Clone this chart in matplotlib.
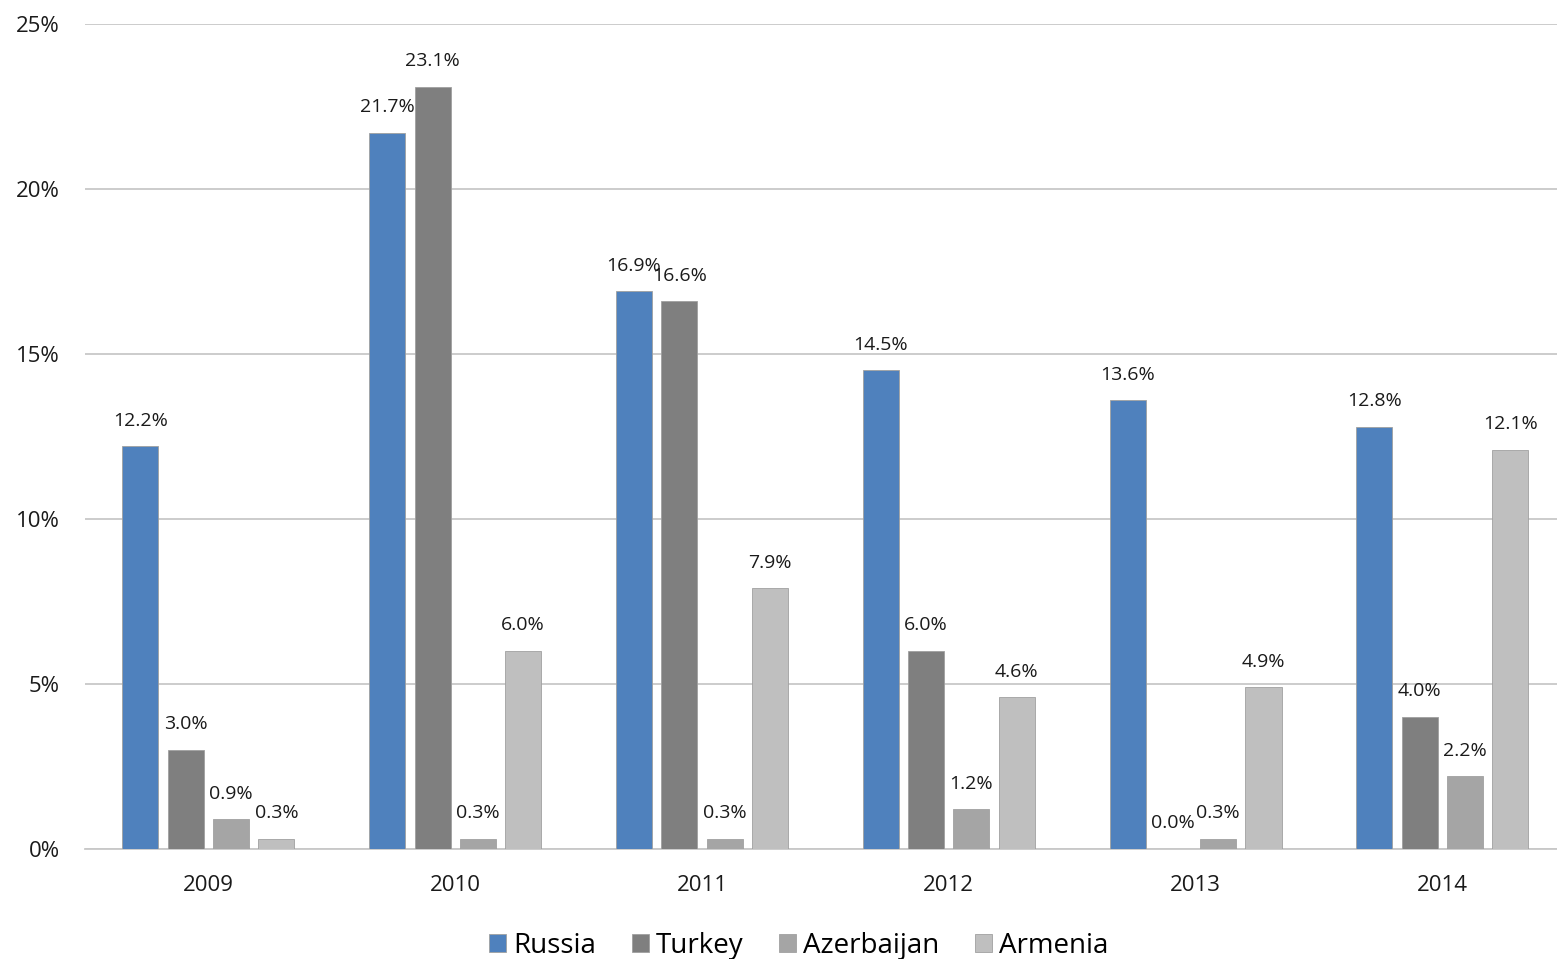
import matplotlib.pyplot as plt
import numpy as np

plt.rcParams['font.family'] = ['Open Sans', 'DejaVu Sans']

# datos
years = ['2009', '2010', '2011', '2012', '2013', '2014']
russia = [12.2, 21.7, 16.9, 14.5, 13.6, 12.8]
turkey = [3.0, 23.1, 16.6, 6.0, 0.0, 4.0]
azerbaijan = [0.9, 0.3, 0.3, 1.2, 0.3, 2.2]
armenia = [0.3, 6.0, 7.9, 4.6, 4.9, 12.1]

series = [('Russia', russia, '#4F81BD'),
          ('Turkey', turkey, '#7F7F7F'),
          ('Azerbaijan', azerbaijan, '#A5A5A5'),
          ('Armenia', armenia, '#BFBFBF')]

fig = plt.figure(figsize=(15.57, 9.59), dpi=100)
ax = fig.add_axes([0.0546, 0.1147, 0.951, 0.8603])

x = np.arange(len(years))
pitch = 0.1836
width = 0.146

for i, (name, vals, col) in enumerate(series):
    pos = x + (i - 1.5) * pitch
    ax.bar(pos, vals, width, color=col, edgecolor='#A0A0A0',
           linewidth=0.6, label=name, zorder=3)
    for xp, v in zip(pos, vals):
        ax.annotate(f'{v:.1f}%', (xp, v), xytext=(0, 12),
                    textcoords='offset points', ha='center', va='bottom',
                    fontsize=14, color='#1a1a1a')

ax.set_xlim(-0.5, 5.5)
ax.set_ylim(0, 25)
ax.set_yticks([0, 5, 10, 15, 20, 25])
ax.set_yticklabels(['0%', '5%', '10%', '15%', '20%', '25%'])
ax.set_xticks(x)
ax.set_xticklabels(years)
ax.tick_params(axis='both', length=0, labelsize=16, colors='#1a1a1a')
ax.tick_params(axis='x', pad=19)
ax.tick_params(axis='y', pad=18)
ax.grid(axis='y', color='#C8C8C8', linewidth=1.3, zorder=0)
for s in ['top', 'right', 'left']:
    ax.spines[s].set_visible(False)
ax.spines['bottom'].set_color('#C8C8C8')
ax.spines['bottom'].set_linewidth(1.3)

ax.legend(loc='center', bbox_to_anchor=(0.482, -0.117), ncol=4,
          frameon=False, fontsize=20, handlelength=0.6, handleheight=0.6,
          handletextpad=0.25, columnspacing=1.3)

fig.savefig('out.png', dpi=100)
